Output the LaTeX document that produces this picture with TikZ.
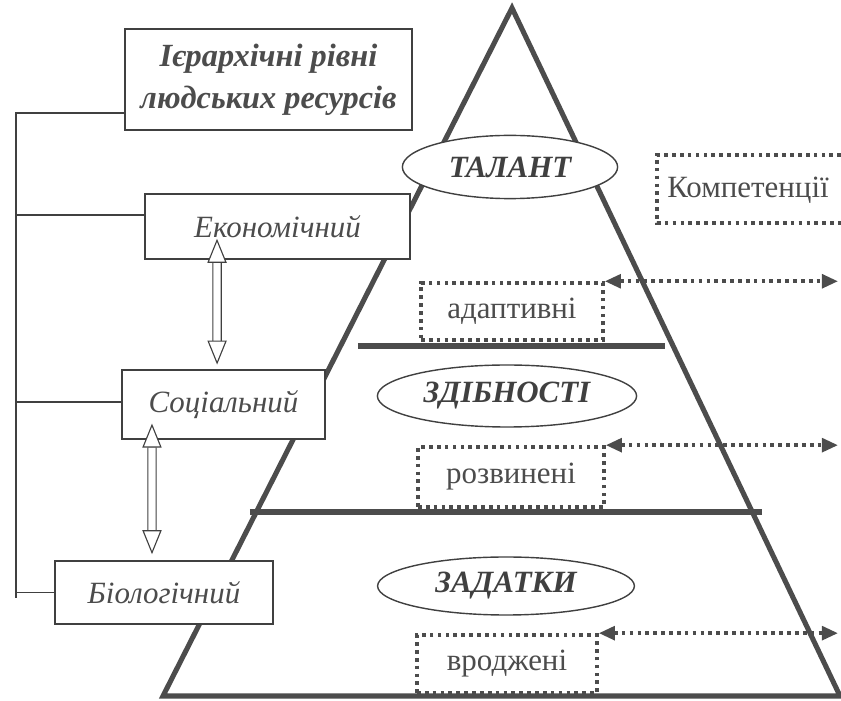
\documentclass[tikz,border=0pt]{standalone}
\usepackage{fontspec}
\setmainfont{Liberation Serif}
\usetikzlibrary{shapes.geometric,arrows.meta}

\begin{document}
\begin{tikzpicture}[x=0.125mm, y=-0.125mm,
  lvl/.style={draw=black!75, fill=white, line width=0.5pt, inner sep=0pt,
    text=black!70, font=\fontsize{11}{13}\selectfont\itshape},
  stage/.style={ellipse, draw=black!75, fill=white, line width=0.5pt, inner sep=0pt,
    text=black!75, font=\fontsize{11}{13}\selectfont\bfseries\itshape},
  comp/.style={draw=black!70, fill=white, line width=1.3pt, dash pattern=on 1.3pt off 1.5pt,
    inner sep=0pt, text=black!70, font=\fontsize{11}{13}\selectfont},
  dotline/.style={black!70, line width=1.3pt, dash pattern=on 1.3pt off 1.5pt},
  dotarrow/.style={dotline, {Triangle[length=2mm,width=1.7mm]}-{Triangle[length=2mm,width=1.7mm]}},
  dblarrow/.style={black!75, line width=0.4pt, double=white, double distance=0.9mm,
    {Triangle[open,length=3mm,width=2.4mm,fill=white]}-{Triangle[open,length=3mm,width=2.4mm,fill=white]}},
  conn/.style={black!75, line width=0.5pt},
  pyr/.style={black!70, line width=1.8pt}]
\useasboundingbox (0,0) rectangle (841,701);

% pyramid
\draw[pyr] (512,8) -- (163,696) -- (840,696) -- cycle;
\draw[pyr] (358,346) -- (665,346);
\draw[pyr] (250,512) -- (762,512);

% levels of human resources
\node[lvl, minimum width=35.9mm, minimum height=12.6mm, align=center,
  font=\fontsize{11.5}{15}\selectfont\bfseries\itshape] (title) at (268.5,79.5)
  {Ієрархічні рівні\\людських ресурсів};
\node[lvl, minimum width=33.1mm, minimum height=8.1mm] (eco) at (277.5,226.5) {Економічний};
\node[lvl, minimum width=25.4mm, minimum height=8.6mm] (soc) at (223.5,404.5) {Соціальний};
\node[lvl, minimum width=27.25mm, minimum height=7.9mm] (bio) at (164,592.5) {Біологічний};

% bracket on the left
\coordinate (spineB) at (16,598);
\draw[conn] ([yshift=-4.2mm]title.west) -| (spineB);
\draw[conn] ([yshift=1.45mm]eco.west) -- ([yshift=1.45mm]eco.west -| spineB);
\draw[conn] ([yshift=0.3mm]soc.west) -- ([yshift=0.3mm]soc.west -| spineB);
\draw[conn] (bio.west) -- (bio.west -| spineB);

% links between levels
\draw[dblarrow] ([shift={(-7.56mm,2.6mm)}]eco.south) -- ([shift={(-0.8mm,0.6mm)}]soc.north);
\draw[dblarrow] ([shift={(-8.94mm,2mm)}]soc.south) -- ([shift={(-1.5mm,0.75mm)}]bio.north);

% stages
\node[stage, minimum width=26.9mm, minimum height=7.9mm] (talant) at (510,167) {ТАЛАНТ};
\node[stage, minimum width=32.4mm, minimum height=7.75mm] (zdib) at (507,396) {ЗДІБНОСТІ};
\node[stage, minimum width=32.1mm, minimum height=7.25mm] (zad) at (506,586) {ЗАДАТКИ};

% competences
\node[text=black!70, font=\fontsize{11}{13}\selectfont] (komp) at (748,190) {Компетенції};
\draw[dotline] (841,155) -| (657,223) -- (841,223);

\node[comp, minimum width=22.75mm, minimum height=7.1mm] (adapt) at (512,311.5) {адаптивні};
\node[comp, minimum width=23.25mm, minimum height=7.5mm] (rozv) at (511,477) {розвинені};
\node[comp, minimum width=22.5mm, minimum height=7.25mm] (vrod) at (507,664) {вроджені};

\coordinate (edgeR) at (838,0);
\foreach \b in {adapt,rozv,vrod}
  \draw[dotarrow] (\b.north east) -- (\b.north east -| edgeR);
\end{tikzpicture}
\end{document}
